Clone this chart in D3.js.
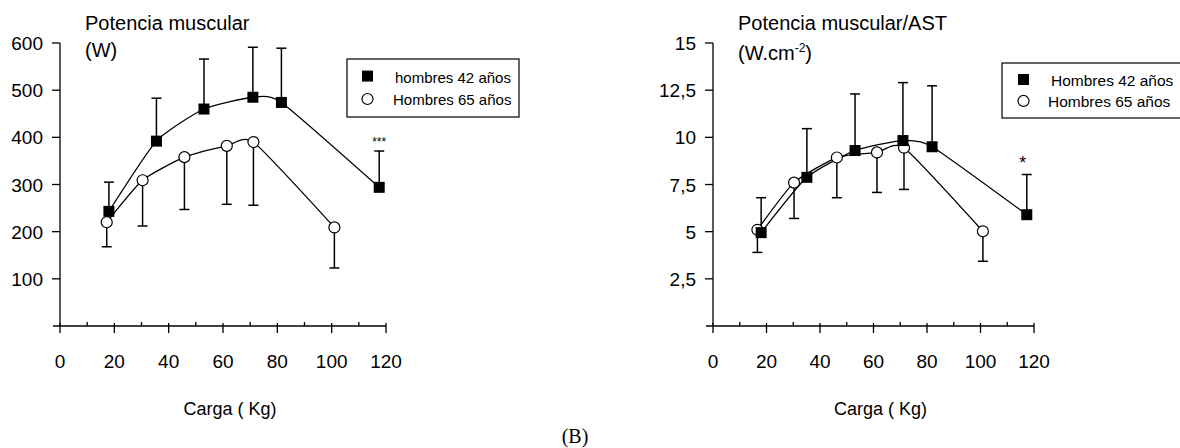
<!DOCTYPE html>
<html>
<head>
<meta charset="utf-8">
<script src="https://cdn.jsdelivr.net/npm/d3@7"></script>
<style>
  body { margin: 0; background: #fff; }
  text { font-family: "Liberation Sans", Arial, sans-serif; fill: #000; }
</style>
</head>
<body>
<div id="container"></div>
<script>
/* DATA */
// panel izquierdo: potencia muscular (W)
const cargaA42 = [18, 35.5, 53, 71, 81.5, 117.5];
const potA42 = [243, 392, 460, 485, 474, 294];
const potA42Err = [62, 91, 106, 106, 115, 77];      // barra hacia arriba
const cargaA65 = [17.2, 30.4, 45.8, 61.4, 71.2, 101];
const potA65 = [220, 309, 358, 382, 390, 209];
const potA65Err = [52, 97, 111, 124, 134, 86];      // barra hacia abajo

// panel derecho: potencia muscular / AST (W.cm-2)
const cargaB42 = [18, 35.1, 53.1, 71, 81.9, 117.3];
const potB42 = [4.95, 7.88, 9.3, 9.83, 9.5, 5.9];
const potB42Err = [1.85, 2.58, 3.0, 3.07, 3.23, 2.13];
const cargaB65 = [16.6, 30.3, 46.3, 61.3, 71.4, 100.9];
const potB65 = [5.1, 7.6, 8.93, 9.2, 9.45, 5.02];
const potB65Err = [1.2, 1.9, 2.13, 2.12, 2.21, 1.59];

const xTicks = [0, 20, 40, 60, 80, 100, 120];
const xMinor = [10, 30, 50, 70, 90, 110];
const yTicksA = [100, 200, 300, 400, 500, 600];
const yTicksB = [2.5, 5, 7.5, 10, 12.5, 15];

/* CONSTANTS */
const width = 1180, height = 448;
const top0 = 43, base = 326;

const svg = d3.select("#container")
  .append("svg")
  .attr("width", width)
  .attr("height", height);

function drawPanel(p) {
  const g = svg.append("g");

  const xScale = d3.scaleLinear().domain([0, 120]).range([p.x0, p.x1]);
  const yScale = d3.scaleLinear().domain([0, p.yMax]).range([base, top0]);

  // x axis: linea, ticks mayores cruzando, menores hacia arriba
  g.append("line")
    .attr("x1", p.x0 - 7).attr("x2", p.x1)
    .attr("y1", base).attr("y2", base)
    .attr("stroke", "#000").attr("stroke-width", 1.3);
  g.selectAll(".xmaj")
    .data(xTicks)
    .join("line")
    .attr("x1", d => xScale(d)).attr("x2", d => xScale(d))
    .attr("y1", base - 3).attr("y2", base + 7)
    .attr("stroke", "#000").attr("stroke-width", 1.3);
  g.selectAll(".xmin")
    .data(xMinor)
    .join("line")
    .attr("x1", d => xScale(d)).attr("x2", d => xScale(d))
    .attr("y1", base - 4).attr("y2", base)
    .attr("stroke", "#000").attr("stroke-width", 1.3);
  g.selectAll(".xlab")
    .data(xTicks)
    .join("text")
    .attr("x", d => xScale(d))
    .attr("y", 368)
    .attr("text-anchor", "middle")
    .style("font-size", "19px")
    .text(d => d);

  // y axis
  g.append("line")
    .attr("x1", p.x0).attr("x2", p.x0)
    .attr("y1", top0).attr("y2", base)
    .attr("stroke", "#000").attr("stroke-width", 1.3);
  g.selectAll(".ytk")
    .data(p.yTicks)
    .join("line")
    .attr("x1", p.x0 - 8).attr("x2", p.x0)
    .attr("y1", d => yScale(d)).attr("y2", d => yScale(d))
    .attr("stroke", "#000").attr("stroke-width", 1.3);
  g.selectAll(".ylab")
    .data(p.yTicks)
    .join("text")
    .attr("x", p.x0 - 17)
    .attr("y", d => yScale(d) + 7)
    .attr("text-anchor", "end")
    .style("font-size", "19px")
    .text(d => String(d).replace(".", ","));

  // titulo
  g.append("text")
    .attr("x", p.x0 + 25).attr("y", 30)
    .style("font-size", "20px")
    .text(p.title);
  const unit = g.append("text")
    .attr("x", p.x0 + 25).attr("y", p.unitY)
    .style("font-size", "20px");
  unit.append("tspan").text(p.unit);
  if (p.sup) {
    unit.append("tspan").attr("dy", -8).style("font-size", "12px").text(p.sup);
    unit.append("tspan").attr("dy", 8).text(")");
  }

  // etiqueta eje x
  g.append("text")
    .attr("x", (p.x0 + p.x1) / 2 + 7)
    .attr("y", 415)
    .attr("text-anchor", "middle")
    .style("font-size", "18px")
    .text("Carga ( Kg)");

  const line = d3.line()
    .x(d => xScale(d[0]))
    .y(d => yScale(d[1]))
    .curve(d3.curveCardinal.tension(0.45));

  const s42 = p.c42.map((c, i) => [c, p.v42[i], p.e42[i]]);
  const s65 = p.c65.map((c, i) => [c, p.v65[i], p.e65[i]]);

  [s42, s65].forEach(s => {
    g.append("path")
      .datum(s)
      .attr("d", line)
      .attr("fill", "none")
      .attr("stroke", "#000")
      .attr("stroke-width", 1.3);
  });

  // barras de error
  const errBars = (data, dir) => {
    g.selectAll(null)
      .data(data)
      .join("line")
      .attr("x1", d => xScale(d[0])).attr("x2", d => xScale(d[0]))
      .attr("y1", d => yScale(d[1]))
      .attr("y2", d => yScale(d[1] + dir * d[2]))
      .attr("stroke", "#000").attr("stroke-width", 1.5);
    g.selectAll(null)
      .data(data)
      .join("line")
      .attr("x1", d => xScale(d[0]) - 5).attr("x2", d => xScale(d[0]) + 5)
      .attr("y1", d => yScale(d[1] + dir * d[2]))
      .attr("y2", d => yScale(d[1] + dir * d[2]))
      .attr("stroke", "#000").attr("stroke-width", 1.5);
  };
  errBars(s42, 1);
  errBars(s65, -1);

  // marcadores
  g.selectAll(null)
    .data(s65)
    .join("circle")
    .attr("cx", d => xScale(d[0]))
    .attr("cy", d => yScale(d[1]))
    .attr("r", 5.5)
    .attr("fill", "#fff")
    .attr("stroke", "#000")
    .attr("stroke-width", 1.2);
  g.selectAll(null)
    .data(s42)
    .join("rect")
    .attr("x", d => xScale(d[0]) - 5.5)
    .attr("y", d => yScale(d[1]) - 5.5)
    .attr("width", 11).attr("height", 11)
    .attr("fill", "#000");

  // significancia
  const last = s42[s42.length - 1];
  g.append("text")
    .attr("x", xScale(last[0]) + p.starDx)
    .attr("y", yScale(last[1] + last[2]) - p.starDy)
    .attr("text-anchor", "middle")
    .style("font-size", p.starSize)
    .text(p.star);

  // leyenda
  const lg = g.append("g").attr("transform", `translate(${p.lx},${p.ly})`);
  lg.append("rect")
    .attr("width", p.lw).attr("height", p.lh)
    .attr("fill", "#fff").attr("stroke", "#000").attr("stroke-width", 1.2);
  lg.append("rect")
    .attr("x", p.lm).attr("y", p.lh * 0.2)
    .attr("width", 11).attr("height", 11).attr("fill", "#000");
  lg.append("circle")
    .attr("cx", p.lm + 5.5).attr("cy", p.lh * 0.69)
    .attr("r", 5.5).attr("fill", "#fff").attr("stroke", "#000").attr("stroke-width", 1.2);
  lg.append("text")
    .attr("x", p.lt1).attr("y", p.lh * 0.42)
    .style("font-size", p.lf)
    .text(p.leg[0]);
  lg.append("text")
    .attr("x", p.lt2).attr("y", p.lh * 0.8)
    .style("font-size", p.lf)
    .text(p.leg[1]);
}

drawPanel({
  x0: 60, x1: 386, yMax: 600, yTicks: yTicksA,
  title: "Potencia muscular", unit: "(W)", unitY: 57,
  c42: cargaA42, v42: potA42, e42: potA42Err,
  c65: cargaA65, v65: potA65, e65: potA65Err,
  star: "***", starSize: "12px", starDx: 0, starDy: 5,
  lx: 347, ly: 59, lw: 172, lh: 58, lm: 15, lt1: 48, lt2: 46, lf: "15px",
  leg: ["hombres 42 años", "Hombres 65 años"]
});

drawPanel({
  x0: 713, x1: 1034, yMax: 15, yTicks: yTicksB,
  title: "Potencia muscular/AST", unit: "(W.cm", sup: "-2", unitY: 60,
  c42: cargaB42, v42: potB42, e42: potB42Err,
  c65: cargaB65, v65: potB65, e65: potB65Err,
  star: "*", starSize: "18px", starDx: -4, starDy: 6,
  lx: 1002, ly: 63, lw: 190, lh: 55, lm: 16, lt1: 49, lt2: 46, lf: "15.5px",
  leg: ["Hombres 42 años", "Hombres 65 años"]
});

// etiqueta del panel
svg.append("text")
  .attr("x", 575).attr("y", 443)
  .attr("text-anchor", "middle")
  .style("font-family", "'Liberation Serif', 'Times New Roman', serif")
  .style("font-size", "20px")
  .text("(B)");
</script>
</body>
</html>
